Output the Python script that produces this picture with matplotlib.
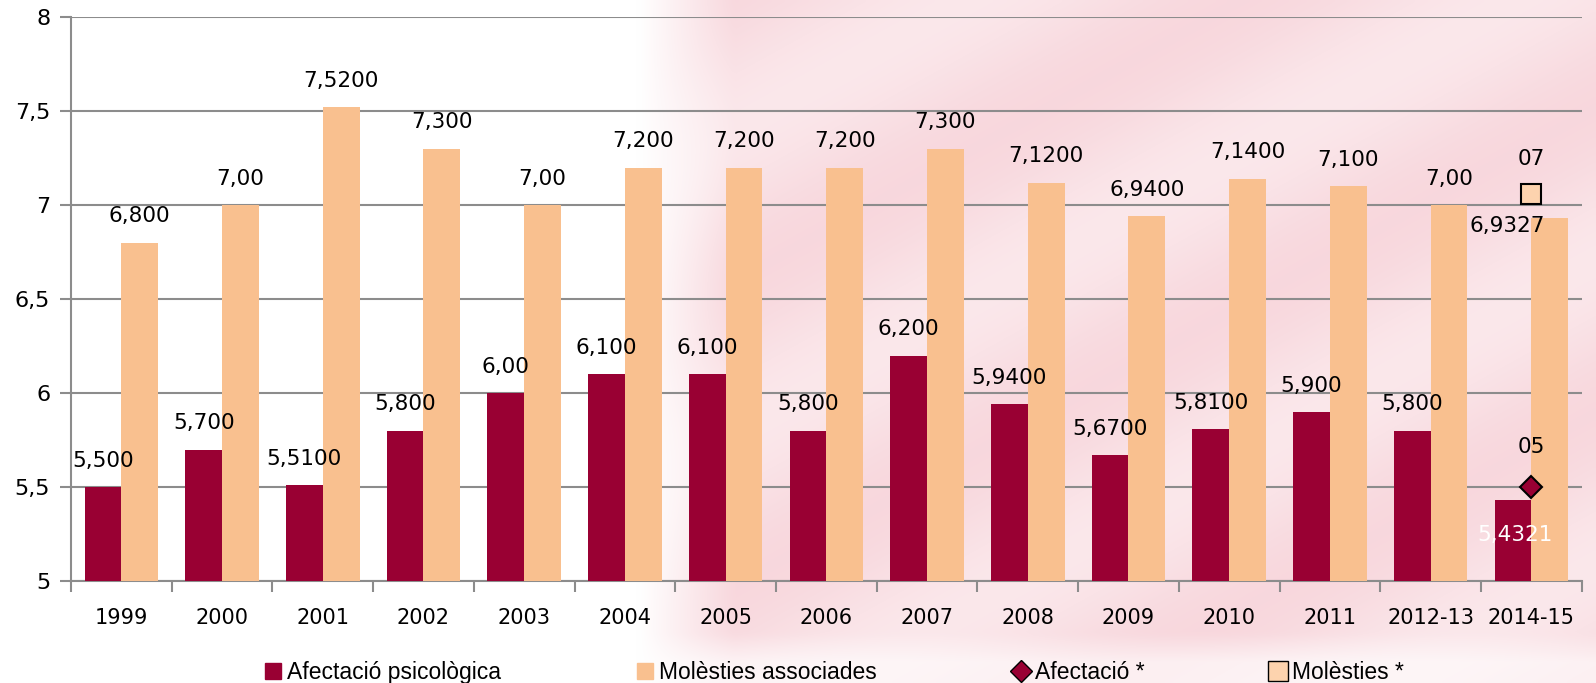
import matplotlib
matplotlib.use('Agg')
import matplotlib.pyplot as plt
from matplotlib import font_manager
from matplotlib.lines import Line2D
from matplotlib.patches import Patch
from matplotlib.ticker import FixedLocator, FuncFormatter
import numpy as np

# data
years = ['1999', '2000', '2001', '2002', '2003', '2004', '2005', '2006', '2007',
         '2008', '2009', '2010', '2011', '2012-13', '2014-15']
afectacio = [5.5, 5.7, 5.51, 5.8, 6.0, 6.1, 6.1, 5.8, 6.2, 5.94, 5.67, 5.81, 5.9, 5.8, 5.4321]
molesties = [6.8, 7.0, 7.52, 7.3, 7.0, 7.2, 7.2, 7.2, 7.3, 7.12, 6.94, 7.14, 7.1, 7.0, 6.9327]
afectacio_txt = ['5,500', '5,700', '5,5100', '5,800', '6,00', '6,100', '6,100', '5,800', '6,200',
                 '5,9400', '5,6700', '5,8100', '5,900', '5,800', '5,4321']
molesties_txt = ['6,800', '7,00', '7,5200', '7,300', '7,00', '7,200', '7,200', '7,200', '7,300',
                 '7,1200', '6,9400', '7,1400', '7,100', '7,00', '6,9327']
# star points (only last period)
afect_star = 5.5
moles_star = 7.06
afect_star_txt = '05'
moles_star_txt = '07'
legend_labels = ['Afectació psicològica', 'Molèsties associades', 'Afectació *', 'Molèsties *']

dark = '#990033'
orange = '#F9C08F'
sq_fill = '#FDD3AE'
grid_c = '#8C8C8C'

names = {f.name for f in font_manager.fontManager.ttflist}
if 'Liberation Sans Narrow' in names:
    leg_font, leg_size = 'Liberation Sans Narrow', 20
else:
    leg_font, leg_size = 'Liberation Sans', 16.5

fig = plt.figure(figsize=(15.96, 6.83), dpi=100)

# faint pink watermark behind the chart
bg = fig.add_axes([0, 0, 1, 1], zorder=-10)
bg.set_axis_off()
gx, gy = np.meshgrid(np.linspace(0, 1, 400), np.linspace(0, 1, 180))
a = np.clip((gx - 0.40) / 0.06, 0, 1) * 0.55
a *= 0.8 + 0.2 * np.sin((gx * 1.3 + gy) * 14)
a[gy > 0.93] *= np.clip((1 - gy[gy > 0.93]) / 0.07, 0.4, 1)
pink = np.array([0.95, 0.72, 0.76])
img = np.ones(gx.shape + (3,)) * (1 - a[..., None]) + pink * a[..., None]
bg.imshow(img, extent=[0, 1, 0, 1], aspect='auto', interpolation='bilinear')
bg.set_xlim(0, 1)
bg.set_ylim(0, 1)

ax = fig.add_axes([0.0445, 0.149, 0.9465, 0.826])
ax.patch.set_alpha(0)

x = np.arange(len(years))
w = 0.365
ax.bar(x - w/2, np.array(afectacio) - 5, w, bottom=5, color=dark, zorder=3)
ax.bar(x + w/2, np.array(molesties) - 5, w, bottom=5, color=orange, zorder=3)

fs = 15.5
last = len(years) - 1
for i in range(len(years)):
    if i == last:
        ax.annotate(afectacio_txt[i], (x[i] - 0.16, afectacio[i]), xytext=(0, -25),
                    textcoords='offset points', ha='center', va='center',
                    fontsize=fs, color='white', zorder=5)
        ax.annotate(molesties_txt[i], (x[i] - 0.24, molesties[i]), xytext=(0, -6),
                    textcoords='offset points', ha='center', va='center',
                    fontsize=fs, color='black', zorder=5)
    else:
        ax.annotate(afectacio_txt[i], (x[i] - w/2, afectacio[i]), xytext=(0, 19),
                    textcoords='offset points', ha='center', va='center',
                    fontsize=fs, color='black', zorder=5)
        ax.annotate(molesties_txt[i], (x[i] + w/2, molesties[i]), xytext=(0, 19),
                    textcoords='offset points', ha='center', va='center',
                    fontsize=fs, color='black', zorder=5)

ax.plot([x[last]], [afect_star], marker='D', ms=11, mfc=dark, mec='black', mew=1.5,
        ls='none', zorder=6)
ax.plot([x[last]], [moles_star], marker='s', ms=14, mfc=sq_fill, mec='black', mew=1.5,
        ls='none', zorder=6)
ax.annotate(afect_star_txt, (x[last], afect_star), xytext=(0, 29), textcoords='offset points',
            ha='center', va='center', fontsize=fs, zorder=6)
ax.annotate(moles_star_txt, (x[last], moles_star), xytext=(0, 25), textcoords='offset points',
            ha='center', va='center', fontsize=fs, zorder=6)

ax.set_xlim(-0.5, len(years) - 0.5)
ax.set_ylim(5, 8)
ax.set_yticks(np.arange(5, 8.01, 0.5))
ax.yaxis.set_major_formatter(FuncFormatter(lambda v, p: ('%g' % v).replace('.', ',')))
ax.yaxis.grid(True, color=grid_c, lw=1.5, zorder=0)
ax.xaxis.set_major_locator(FixedLocator(np.arange(-0.5, len(years), 1.0)))
ax.xaxis.set_minor_locator(FixedLocator(x))
ax.set_xticklabels([], minor=False)
ax.set_xticklabels(years, minor=True)
ax.tick_params(axis='x', which='minor', length=0, labelsize=15, pad=19)
ax.tick_params(axis='x', which='major', length=8, width=1.5, color=grid_c, direction='out')
ax.tick_params(axis='y', length=8, width=1.5, color=grid_c, labelsize=16, pad=7)
for s in ['top', 'right']:
    ax.spines[s].set_visible(False)
for s in ['left', 'bottom']:
    ax.spines[s].set_color(grid_c)
    ax.spines[s].set_linewidth(1.5)

handles = [Patch(color=dark), Patch(color=orange),
           Line2D([], [], marker='D', ms=11, mfc=dark, mec='black', ls='none'),
           Line2D([], [], marker='s', ms=14, mfc=sq_fill, mec='black', ls='none')]
leg_x = [0.166, 0.399, 0.635, 0.796]
for h, lab, lx in zip(handles, legend_labels, leg_x):
    leg = fig.legend([h], [lab], loc='center left', bbox_to_anchor=(lx, 0.016),
                     frameon=False, borderpad=0, borderaxespad=0,
                     handlelength=0.7, handleheight=0.7, handletextpad=0.25,
                     prop={'family': [leg_font, 'DejaVu Sans'], 'size': leg_size})

fig.savefig('out.png', dpi=100)
